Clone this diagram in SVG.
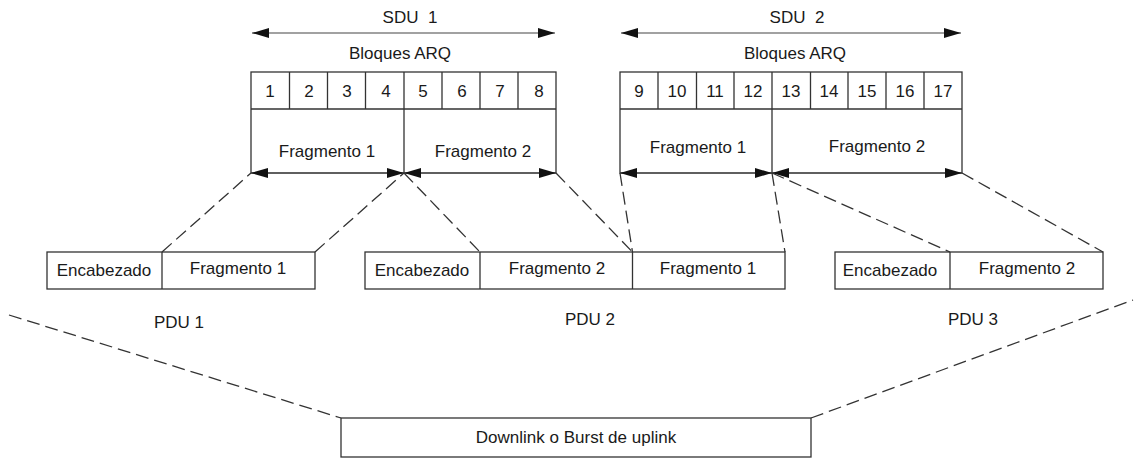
<svg xmlns="http://www.w3.org/2000/svg" width="1135" height="459" viewBox="0 0 1135 459">
<style>
text{font-family:"Liberation Sans",Arial,sans-serif;font-size:17px;fill:#1a1a1a;text-anchor:middle;white-space:pre}
.box{fill:#fff;stroke:#333;stroke-width:1.3}
.ln{stroke:#333;stroke-width:1.3;fill:none}
.dash{stroke:#333;stroke-width:1.3;fill:none;stroke-dasharray:13 6}
.arr{stroke:#444;stroke-width:1.2;fill:none;marker-start:url(#ah);marker-end:url(#ah)}
</style>
<defs>
<marker id="ah" markerUnits="userSpaceOnUse" viewBox="0 0 17 10" refX="17" refY="5" markerWidth="17" markerHeight="10" orient="auto-start-reverse">
<path d="M0,0 L17,5 L0,10 Z" fill="#111"/>
</marker>
</defs>
<rect width="1135" height="459" fill="#fff"/>
<g id="sdu1">
<text x="410" y="23">SDU  1</text>
<text x="400" y="59">Bloques ARQ</text>
<rect class="box" x="251" y="72" width="305" height="101"/>
<path class="ln" d="M251,109H556M289.5,72V109M327.5,72V109M365.5,72V109M404,72V173M442,72V109M480,72V109M518,72V109"/>
<text x="270" y="97">1</text><text x="309" y="97">2</text><text x="347" y="97">3</text><text x="386" y="97">4</text>
<text x="423" y="97">5</text><text x="462" y="97">6</text><text x="500" y="97">7</text><text x="539" y="97">8</text>
<text x="327" y="157">Fragmento 1</text>
<text x="483" y="157">Fragmento 2</text>
</g>
<g id="sdu2">
<text x="797" y="23">SDU  2</text>
<text x="795" y="59">Bloques ARQ</text>
<rect class="box" x="620" y="72" width="342" height="101"/>
<path class="ln" d="M620,109H962M658,72V109M696.5,72V109M734,72V109M772,72V173M810.5,72V109M848,72V109M886,72V109M924,72V109"/>
<text x="639" y="97">9</text><text x="677" y="97">10</text><text x="715" y="97">11</text><text x="753" y="97">12</text>
<text x="791" y="97">13</text><text x="829" y="97">14</text><text x="867" y="97">15</text><text x="905" y="97">16</text><text x="943" y="97">17</text>
<text x="698" y="153">Fragmento 1</text>
<text x="877" y="152">Fragmento 2</text>
</g>
<g id="pdu1">
<rect class="box" x="47" y="252" width="268" height="37"/>
<path class="ln" d="M162,252V289"/>
<text x="104" y="276">Encabezado</text>
<text x="238" y="274">Fragmento 1</text>
<text x="179" y="328">PDU 1</text>
</g>
<g id="pdu2">
<rect class="box" x="365" y="252" width="420" height="37"/>
<path class="ln" d="M480,252V289M632.5,252V289"/>
<text x="422" y="276">Encabezado</text>
<text x="557" y="274">Fragmento 2</text>
<text x="708" y="274">Fragmento 1</text>
<text x="590" y="325">PDU 2</text>
</g>
<g id="pdu3">
<rect class="box" x="835" y="252" width="268" height="37"/>
<path class="ln" d="M950,252V289"/>
<text x="890" y="276">Encabezado</text>
<text x="1027" y="274">Fragmento 2</text>
<text x="973" y="325">PDU 3</text>
</g>
<g id="burst">
<rect class="box" x="341" y="418" width="470" height="39"/>
<text x="576" y="443">Downlink o Burst de uplink</text>
</g>
<g id="connectors">
<line class="arr" x1="252" y1="33" x2="555" y2="33"/>
<line class="arr" x1="621" y1="33" x2="961" y2="33"/>
<line class="arr" x1="251" y1="173" x2="404" y2="173"/>
<line class="arr" x1="404" y1="173" x2="556" y2="173"/>
<line class="arr" x1="620" y1="173" x2="772" y2="173"/>
<line class="arr" x1="772" y1="173" x2="962" y2="173"/>
<line class="dash" x1="162" y1="252" x2="251" y2="173"/>
<line class="dash" x1="315" y1="252" x2="404" y2="173"/>
<line class="dash" x1="404" y1="173" x2="480" y2="252"/>
<line class="dash" x1="556" y1="173" x2="632.5" y2="252"/>
<line class="dash" x1="620" y1="173" x2="632.5" y2="252"/>
<line class="dash" x1="772" y1="173" x2="785" y2="252"/>
<line class="dash" x1="772" y1="173" x2="950" y2="252"/>
<line class="dash" x1="962" y1="173" x2="1103" y2="252"/>
<line class="dash" x1="9" y1="315" x2="341" y2="418"/>
<line class="dash" x1="811" y1="418" x2="1133" y2="300"/>
</g>
</svg>
